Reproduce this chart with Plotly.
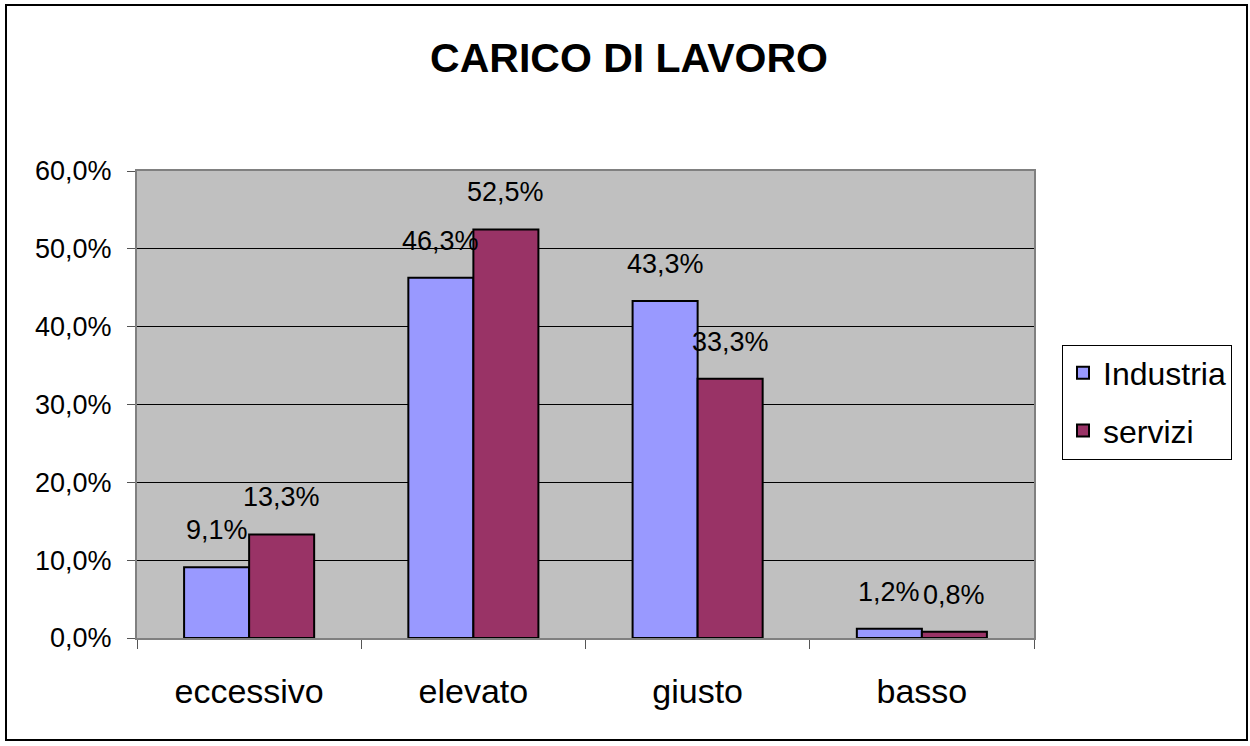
import plotly.graph_objects as go

categories = ["eccessivo", "elevato", "giusto", "basso"]
industria = [9.1, 46.3, 43.3, 1.2]
servizi = [13.3, 52.5, 33.3, 0.8]
series_names = ["Industria", "servizi"]
y_ticks = [0, 10, 20, 30, 40, 50, 60]
y_tick_labels = ["0,0%", "10,0%", "20,0%", "30,0%", "40,0%", "50,0%", "60,0%"]

FONT = "Liberation Sans, Arial, sans-serif"
W, H = 1250, 746
L, R, T, B = 137, 1034, 171, 638

fig = go.Figure()
fig.add_trace(go.Bar(x=categories, y=industria, name=series_names[0], legendgroup="a",
                     marker=dict(color="#9999FF", line=dict(color="black", width=2))))
fig.add_trace(go.Bar(x=categories, y=servizi, name=series_names[1], legendgroup="b",
                     marker=dict(color="#993366", line=dict(color="black", width=2))))

def fmt(v):
    return f"{v:.1f}".replace(".", ",") + "%"

for vals, shift in ((industria, -32.5), (servizi, 32.5)):
    for c, v in zip(categories, vals):
        fig.add_annotation(x=c, y=v, text=fmt(v), showarrow=False,
                           xshift=shift, yshift=37, yanchor="middle",
                           font=dict(family=FONT, size=27, color="black"))

pw = R - L
ph = B - T
# outer chart border
fig.add_shape(type="rect", xref="paper", yref="paper",
              x0=(6 - L) / pw, x1=(1247 - L) / pw,
              y0=(B - 740) / ph, y1=(B - 5) / ph,
              line=dict(color="black", width=2), fillcolor="rgba(0,0,0,0)", layer="below")

fig.update_layout(
    width=W, height=H,
    margin=dict(l=L, r=W - R, t=T, b=H - B),
    paper_bgcolor="white",
    plot_bgcolor="#C0C0C0",
    barmode="group",
    bargap=0.42,
    bargroupgap=0,
    title=dict(text="<b>CARICO DI LAVORO</b>", x=629 / W, xref="container", xanchor="center",
               y=1 - 58 / H, yref="container", yanchor="middle",
               font=dict(family=FONT, size=41, color="black")),
    legend=dict(x=(1062 - L) / pw, xanchor="left", y=(B - 402) / ph, yanchor="middle",
                bordercolor="black", borderwidth=1, bgcolor="white",
                font=dict(family=FONT, size=32, color="black"),
                itemwidth=30, tracegroupgap=13, traceorder="grouped"),
    font=dict(family=FONT, color="black"),
)
fig.update_xaxes(showgrid=False, ticks="outside", tickson="boundaries", ticklen=9,
                 tickcolor="#555555", showline=True, linecolor="#808080", linewidth=2,
                 tickfont=dict(family=FONT, size=34, color="black"),
                 ticklabelstandoff=22, mirror=True)
fig.update_yaxes(range=[0, 60], tickvals=y_ticks, ticktext=y_tick_labels,
                 showgrid=True, gridcolor="black", gridwidth=1,
                 ticks="outside", ticklen=8, tickcolor="#555555",
                 showline=True, linecolor="#808080", linewidth=2, mirror=True,
                 tickfont=dict(family=FONT, size=27, color="black"),
                 ticklabelstandoff=10, zeroline=False)

fig.write_html("out.html", config={"displayModeBar": False},
               post_script="document.body.style.margin='0';document.body.style.overflow='hidden';")
